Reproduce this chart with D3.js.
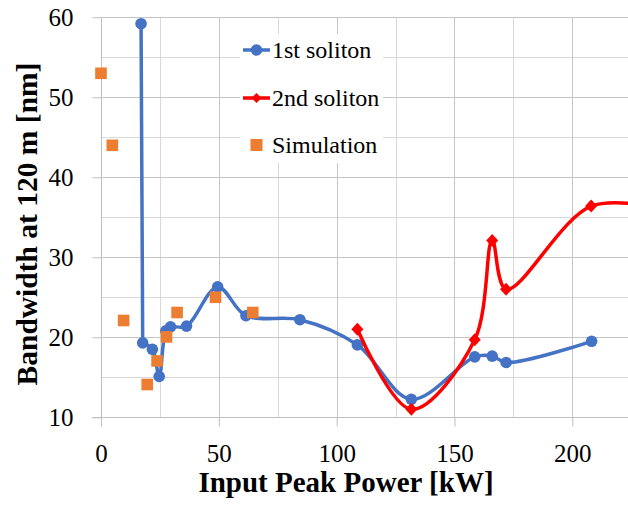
<!DOCTYPE html>
<html>
<head>
<meta charset="utf-8">
<script src="https://cdn.jsdelivr.net/npm/d3@7"></script>
<style>
  html, body { margin: 0; padding: 0; background: #ffffff; }
  svg { display: block; }
  text { font-family: "Liberation Serif", "Times New Roman", serif; fill: #000; }
</style>
</head>
<body>
<script>
// ---- data ----
const soliton1X = [17, 17.7, 21.8, 24.7, 27.5, 29.5, 36.3, 49.5, 61.5, 84.4, 108.8, 131.7, 158.6, 166.0, 171.9, 208.2];
const soliton1Y = [59.2, 19.3, 18.5, 15.1, 20.8, 21.3, 21.4, 26.3, 22.7, 22.2, 19.05, 12.25, 17.55, 17.65, 16.85, 19.5];

const soliton2X = [108.8, 131.7, 158.6, 166.0, 171.9, 208.0, 240];
const soliton2Y = [21.0, 11.0, 19.7, 32.1, 26.0, 36.4, 36.0];

const simX = [0, 4.8, 9.6, 19.6, 23.8, 27.8, 32.3, 48.6, 64.4];
const simY = [53.0, 44.0, 22.1, 14.1, 17.05, 20.05, 23.1, 25.0, 23.1];

const xTicks = [0, 50, 100, 150, 200];
const xMinor = [25, 75, 125, 175, 225];
const yTicks = [10, 20, 30, 40, 50, 60];
const yMinor = [15, 25, 35, 45, 55];

const seriesNames = ["1st soliton", "2nd soliton", "Simulation"];
const colors = { s1: "#4472C4", s2: "#FF0000", sim: "#ED7D31" };

// ---- layout ----
const W = 628, H = 510;
const svg = d3.select("body").append("svg").attr("width", W).attr("height", H);
svg.append("rect").attr("width", W).attr("height", H).attr("fill", "#fff");

const x = d3.scaleLinear().domain([0, 225]).range([101, 101 + 225 * 2.3565]);
const y = d3.scaleLinear().domain([10, 60]).range([417.3, 17.3]);

// gridlines
const grid = svg.append("g");
grid.selectAll(".hmin").data(yMinor).join("line")
  .attr("x1", x(0)).attr("x2", W + 10)
  .attr("y1", d => Math.round(y(d)) + 0.5).attr("y2", d => Math.round(y(d)) + 0.5)
  .attr("stroke", "#d9d9d9").attr("stroke-width", 1);
grid.selectAll(".vmin").data(xMinor).join("line")
  .attr("x1", d => Math.round(x(d)) + 0.5).attr("x2", d => Math.round(x(d)) + 0.5)
  .attr("y1", y(60)).attr("y2", y(10))
  .attr("stroke", "#d9d9d9").attr("stroke-width", 1);
grid.selectAll(".hmaj").data(yTicks).join("line")
  .attr("x1", x(0)).attr("x2", W + 10)
  .attr("y1", d => Math.round(y(d)) + 0.5).attr("y2", d => Math.round(y(d)) + 0.5)
  .attr("stroke", "#c6c6c6").attr("stroke-width", 1);
grid.selectAll(".vmaj").data(xTicks).join("line")
  .attr("x1", d => Math.round(x(d)) + 0.5).attr("x2", d => Math.round(x(d)) + 0.5)
  .attr("y1", y(60)).attr("y2", y(10))
  .attr("stroke", "#c6c6c6").attr("stroke-width", 1);

// axes
const xAxis = svg.append("g").attr("transform", `translate(0,${Math.round(y(10)) + 0.5})`)
  .call(d3.axisBottom(x).tickValues(xTicks).tickSize(9).tickSizeOuter(0).tickFormat(d3.format("d")));
xAxis.attr("font-family", null);
xAxis.select(".domain").remove();
xAxis.append("line").attr("x1", x(0) - 9).attr("x2", W + 10).attr("stroke", "#bfbfbf");
xAxis.selectAll(".tick line").attr("stroke", "#bfbfbf");
xAxis.selectAll(".tick text").attr("y", 44).attr("dy", 0)
  .style("font-family", "Liberation Serif").style("font-size", "25px").attr("fill", "#111");

const yAxis = svg.append("g").attr("transform", `translate(${Math.round(x(0)) + 0.5},0)`)
  .call(d3.axisLeft(y).tickValues(yTicks).tickSize(9).tickPadding(19).tickSizeOuter(0));
yAxis.attr("font-family", null);
yAxis.select(".domain").remove();
yAxis.append("line").attr("y1", y(60)).attr("y2", y(10) + 9).attr("stroke", "#bfbfbf");
yAxis.selectAll(".tick line").attr("stroke", "#bfbfbf");
yAxis.selectAll(".tick text").attr("dy", "0.34em")
  .style("font-family", "Liberation Serif").style("font-size", "25px").attr("fill", "#111");

// axis titles
svg.append("text").attr("x", 346).attr("y", 492).attr("text-anchor", "middle")
  .style("font-size", "29px").style("font-weight", "bold").text("Input Peak Power [kW]");
svg.append("text").attr("transform", "translate(37,224) rotate(-90)").attr("text-anchor", "middle")
  .style("font-size", "29.5px").style("font-weight", "bold").text("Bandwidth at 120 m [nm]");

// plot
const plot = svg.append("g");
const line = d3.line().x(d => x(d[0])).y(d => y(d[1])).curve(d3.curveCatmullRom.alpha(0.5));
const s1 = soliton1X.map((v, i) => [v, soliton1Y[i]]);
const s2 = soliton2X.map((v, i) => [v, soliton2Y[i]]);
const sim = simX.map((v, i) => [v, simY[i]]);

// first blue segment is a straight vertical drop, rest smoothed
const s1Path = `M${x(s1[0][0])},${y(s1[0][1])}L` + line(s1.slice(1)).slice(1);
plot.append("path").attr("d", s1Path).attr("fill", "none")
  .attr("stroke", colors.s1).attr("stroke-width", 3.5).attr("stroke-linejoin", "round");
plot.selectAll(".c1").data(s1).join("circle")
  .attr("cx", d => x(d[0])).attr("cy", d => y(d[1])).attr("r", 5.8).attr("fill", colors.s1);

plot.append("path").attr("d", line(s2)).attr("fill", "none")
  .attr("stroke", colors.s2).attr("stroke-width", 3.5).attr("stroke-linejoin", "round");
const diamondPath = "M0,-6.5L6,0L0,6.5L-6,0Z";
plot.selectAll(".d2").data(s2).join("path")
  .attr("d", diamondPath).attr("transform", d => `translate(${x(d[0])},${y(d[1])})`)
  .attr("fill", colors.s2);

plot.selectAll(".sq").data(sim).join("rect")
  .attr("x", d => x(d[0]) - 5.8).attr("y", d => y(d[1]) - 5.8)
  .attr("width", 11.6).attr("height", 11.6).attr("fill", colors.sim);

// legend
const lg = svg.append("g");
lg.append("rect").attr("x", 240).attr("y", 34).attr("width", 143).attr("height", 129).attr("fill", "#fff");
const ly = [50, 98, 145];
lg.append("line").attr("x1", 243).attr("x2", 270).attr("y1", ly[0]).attr("y2", ly[0])
  .attr("stroke", colors.s1).attr("stroke-width", 3.5);
lg.append("circle").attr("cx", 256.5).attr("cy", ly[0]).attr("r", 5.8).attr("fill", colors.s1);
lg.append("line").attr("x1", 243).attr("x2", 270).attr("y1", ly[1]).attr("y2", ly[1])
  .attr("stroke", colors.s2).attr("stroke-width", 3.5);
lg.append("path").attr("d", "M0,-5L5,0L0,5L-5,0Z").attr("transform", `translate(256.5,${ly[1]})`).attr("fill", colors.s2);
lg.append("rect").attr("x", 250.5).attr("y", ly[2] - 6).attr("width", 12).attr("height", 12).attr("fill", colors.sim);
lg.selectAll(".lt").data(seriesNames).join("text")
  .attr("x", 272).attr("y", (d, i) => ly[i]).attr("dy", "0.35em")
  .style("font-size", "24px").text(d => d);
</script>
</body>
</html>
